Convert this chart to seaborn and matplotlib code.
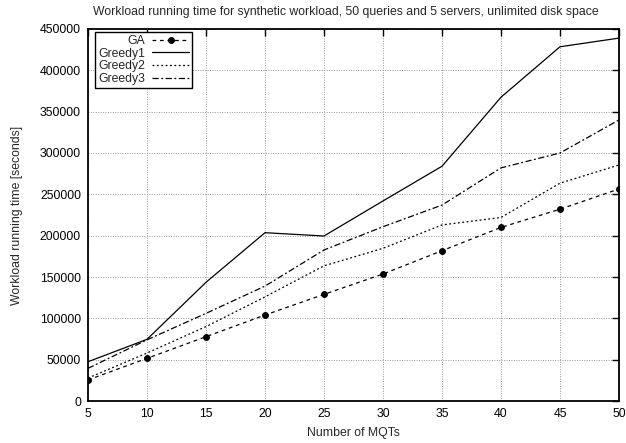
import matplotlib
matplotlib.use("Agg")
import matplotlib.pyplot as plt
import seaborn as sns
import pandas as pd
from matplotlib.ticker import FuncFormatter

mqts = [5, 10, 15, 20, 25, 30, 35, 40, 45, 50]
ga = [25500, 51600, 77800, 104000, 129000, 153600, 181800, 210000, 232000, 256500]
greedy1 = [47500, 74600, 143600, 203600, 199600, 242000, 284000, 367500, 428500, 439000]
greedy2 = [27800, 58000, 90000, 126000, 163500, 184700, 213000, 222000, 263500, 285500]
greedy3 = [39500, 74000, 106000, 139000, 182700, 210800, 237000, 282000, 300000, 340000]

title = "Workload running time for synthetic workload, 50 queries and 5 servers, unlimited disk space"
xlabel = "Number of MQTs"
ylabel = "Workload running time [seconds]"

FS = 8.8
sns.set_style("white")
plt.rcParams['font.family'] = ['Liberation Sans', 'DejaVu Sans']
plt.rcParams['font.size'] = FS

fig = plt.figure(figsize=(6.26, 4.43), dpi=100)
ax = fig.add_axes([88/626, 1 - 401/443, (619-88)/626, (401-29)/443])

df = pd.DataFrame({"mqts": mqts, "GA": ga, "Greedy1": greedy1,
                   "Greedy2": greedy2, "Greedy3": greedy3})

sns.lineplot(data=df, x="mqts", y="GA", ax=ax, color="black", lw=0.9,
             linestyle=(0, (3, 3)), marker="o", markersize=4.2,
             markeredgecolor="black", label="GA")
sns.lineplot(data=df, x="mqts", y="Greedy1", ax=ax, color="black", lw=0.9,
             linestyle="-", label="Greedy1")
sns.lineplot(data=df, x="mqts", y="Greedy2", ax=ax, color="black", lw=0.9,
             linestyle=(0, (1.5, 2)), label="Greedy2")
sns.lineplot(data=df, x="mqts", y="Greedy3", ax=ax, color="black", lw=0.9,
             linestyle=(0, (5, 2, 1.5, 2)), label="Greedy3")

ax.set_xlim(5, 50)
ax.set_ylim(0, 450000)
ax.set_xticks(range(5, 51, 5))
ax.set_yticks(range(0, 450001, 50000))
ax.yaxis.set_major_formatter(FuncFormatter(lambda v, p: f"{int(v)}"))
ax.tick_params(direction="in", length=5, width=1, top=True, right=True,
               labelsize=FS, colors="black", pad=5)
ax.grid(True, color="#999999", linestyle=(0, (1, 1.5)), linewidth=0.7)
for s in ax.spines.values():
    s.set_color("black")
    s.set_linewidth(1.3)

ax.set_xlabel(xlabel, fontsize=FS, labelpad=5)
ax.set_ylabel(ylabel, fontsize=FS, labelpad=12)
fig.text(346/626, 1 - 12/443, title, ha="center", va="center", fontsize=FS)

leg = ax.legend(loc="upper left", markerfirst=False, frameon=True, fancybox=False,
                edgecolor="black", framealpha=1, fontsize=FS, handlelength=3.0,
                borderpad=0.25, labelspacing=0.05, handletextpad=0.6,
                borderaxespad=0.0, bbox_to_anchor=(7/531, 1 - 3/372))
leg.get_frame().set_linewidth(1.0)

fig.savefig("out.png", dpi=100)
